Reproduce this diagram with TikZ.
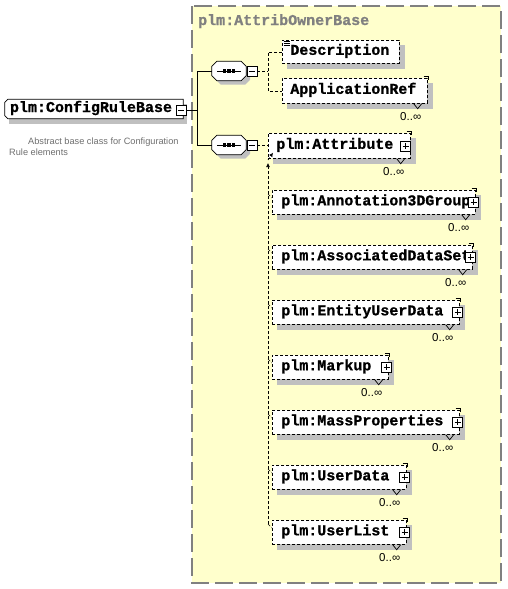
\documentclass[tikz,border=0pt]{standalone}
\usepackage{fontspec}
\setmainfont{Liberation Sans}
\newfontfamily\xmono[BoldFeatures={FakeBold=1}]{Liberation Mono}
\usetikzlibrary{arrows.meta,calc}
\pgfdeclarelayer{back}
\pgfdeclarelayer{shade}
\pgfsetlayers{back,shade,main}
\definecolor{bgyellow}{RGB}{255,255,204}
\definecolor{bordergray}{RGB}{128,128,128}
\definecolor{shadowgray}{RGB}{192,192,192}
\definecolor{docgray}{RGB}{110,110,110}
\newcommand\lbl[2]{\makebox[#1][l]{#2}}
% shadow rectangle behind a node
\newcommand\shadowof[1]{%
  \begin{pgfonlayer}{shade}
  \fill[shadowgray] ($(#1.north west)+(5,5)$) rectangle ($(#1.south east)+(5,5)$);
  \end{pgfonlayer}}
% octagon path around a node: node, chamfer, shift
\newcommand\octpath[4]{($(#1.north west)+(#2+#3,#4)$) -- ($(#1.north east)+(-#2+#3,#4)$) -- ($(#1.north east)+(#3,#2+#4)$) -- ($(#1.south east)+(#3,-#2+#4)$) -- ($(#1.south east)+(-#2+#3,#4)$) -- ($(#1.south west)+(#2+#3,#4)$) -- ($(#1.south west)+(#3,-#2+#4)$) -- ($(#1.north west)+(#3,#2+#4)$) -- cycle}
\newcommand\multimark[1]{%
  \draw[line width=0.7pt] ([xshift=-4pt,yshift=2pt]#1.north east) -- ([xshift=1pt,yshift=2pt]#1.north east) -- ([xshift=1pt,yshift=-2pt]#1.north east);
  \draw[line width=0.7pt] ([xshift=-14pt]#1.south east) -- ([xshift=-10pt,yshift=-5pt]#1.south east) -- ([xshift=-6pt]#1.south east);
  \node[mult] (#1-mult) at ([xshift=-17pt,yshift=-13pt]#1.south east) {0..∞};}
\begin{document}
\begin{tikzpicture}[x=1pt,y=-1pt,
  elem/.style={draw, line width=0.7pt, dash pattern=on 3pt off 2pt, fill=white,
    anchor=north west, inner xsep=9pt, inner ysep=0pt, minimum height=24pt,
    text height=9pt, text depth=3pt, font=\xmono\bfseries\fontsize{15}{15}\selectfont},
  pbox/.style={draw, solid, line width=0.7pt, fill=white, minimum size=10pt, inner sep=0pt,
    path picture={\draw[line width=0.7pt] ([xshift=2pt]path picture bounding box.west) -- ([xshift=-2pt]path picture bounding box.east)
      ([yshift=-2pt]path picture bounding box.north) -- ([yshift=2pt]path picture bounding box.south);}},
  mbox/.style={draw, solid, line width=0.7pt, fill=white, minimum size=10pt, inner sep=0pt,
    path picture={\draw[line width=0.7pt] ([xshift=2pt]path picture bounding box.west) -- ([xshift=-2pt]path picture bounding box.east);}},
  seqbox/.style={rectangle, minimum width=34pt, minimum height=19pt, inner sep=0pt},
  mult/.style={font=\fontsize{11.5}{11.5}\selectfont, inner sep=0pt},
  conn/.style={line width=0.8pt},
  dconn/.style={line width=0.7pt, dash pattern=on 3pt off 2pt},
  tip/.style={-{Latex[length=4pt,width=4pt]}}
]
\useasboundingbox (0,0) rectangle (507,589);
% group box
\begin{pgfonlayer}{back}
\draw[bordergray, fill=bgyellow, line width=1.2pt, dash pattern=on 18pt off 6pt] (192,6) rectangle (501,583);
\end{pgfonlayer}
\node[anchor=base west, inner sep=0pt, text=bordergray, font=\xmono\bfseries\fontsize{15}{15}\selectfont] (grptitle) at (198,25) {plm:AttribOwnerBase};

% root element
\node[rectangle, minimum width=178pt, minimum height=19pt, inner sep=0pt, text height=9pt, text depth=3pt,
  font=\xmono\bfseries\fontsize{15}{15}\selectfont] (crb) at (94,109) {\lbl{168pt}{plm:ConfigRuleBase}};
\begin{pgfonlayer}{shade}
\fill[shadowgray] ($(crb.north west)+(4,5)$) rectangle ($(crb.south east)+(4,5)$);
\fill[white] ($(crb.north west)+(3,0)$) -- (crb.north east) -- (crb.south east) -- ($(crb.south west)+(3,0)$) -- ($(crb.south west)+(0,-3)$) -- ($(crb.north west)+(0,3)$) -- cycle;
\end{pgfonlayer}
\draw[line width=0.8pt] ($(crb.north west)+(3,0)$) -- (crb.north east) -- (crb.south east) -- ($(crb.south west)+(3,0)$) -- ($(crb.south west)+(0,-3)$) -- ($(crb.north west)+(0,3)$) -- cycle;
\node[mbox] (crbm) at (181,110) {};
\node[anchor=base west, inner sep=0pt, text=docgray, font=\fontsize{9.2}{11}\selectfont] (doc1) at (28,144) {Abstract base class for Configuration};
\node[anchor=base west, inner sep=0pt, text=docgray, font=\fontsize{9.2}{11}\selectfont] (doc2) at (9,155) {Rule elements};

% sequences
\node[seqbox] (seq1) at (229,71) {};
\node[seqbox] (seq2) at (229,145) {};
\foreach \s in {seq1,seq2}{
  \begin{pgfonlayer}{shade}
  \fill[shadowgray] \octpath{\s}{5}{4}{4};
  \end{pgfonlayer}
  \draw[line width=0.8pt, fill=white] \octpath{\s}{5}{0}{0};
  \draw[line width=0.8pt] ([xshift=5pt]\s.west) -- ([xshift=-5pt]\s.east);
  \foreach \dx in {-4.5,0,4.5}
    \fill ($(\s.center)+(\dx,0)$) +(-1.7,-1.7) rectangle +(1.7,1.7);
}
\node[mbox] (s1m) at (252,71) {};
\node[mbox] (s2m) at (252,145) {};

\coordinate (j) at (197,0);
\draw[conn] (crbm.east) -- (crbm.east -| j) |- (seq1.west);
\draw[conn] (crbm.east -| j) |- (seq2.west);

% first sequence children
\node[elem, inner xsep=8pt, minimum height=23pt] (desc) at (282,40) {\lbl{101pt}{Description}};
\shadowof{desc}
\foreach \dy in {1.5,3.5,5.5}
  \draw[line width=0.7pt] ($(desc.north west)+(1.5,\dy)$) -- ++(6,0);
\node[elem, inner xsep=8pt, minimum height=25pt] (app) at (282,78) {\lbl{129pt}{ApplicationRef}};
\shadowof{app}
\multimark{app}
\coordinate (k1) at (268,0);
\draw[dconn] (s1m.east) -- (s1m.east -| k1);
\draw[dconn] (desc.west) -- (desc.west -| k1) -- (app.west -| k1) -- (app.west);

% second sequence: attribute + substitution group
\node[elem, inner xsep=8pt, minimum height=25pt] (attr) at (268,133) {\lbl{126pt}{plm:Attribute}};
\shadowof{attr}
\node[pbox] (attrp) at ($(attr.east)+(-5,0)$) {};
\multimark{attr}
\draw[dconn] (s2m.east) -- (s2m.east -| attr.west);

\node[elem] (ann) at (272,190) {\lbl{185pt}{plm:Annotation3DGroup}};
\node[elem] (ads) at (272,245) {\lbl{182pt}{plm:AssociatedDataSet}};
\node[elem] (eud) at (272,300) {\lbl{169pt}{plm:EntityUserData}};
\node[elem] (mku) at (272,355) {\lbl{98pt}{plm:Markup}};
\node[elem] (mps) at (272,410) {\lbl{169pt}{plm:MassProperties}};
\node[elem] (ud)  at (272,465) {\lbl{116pt}{plm:UserData}};
\node[elem] (ul)  at (272,520) {\lbl{116pt}{plm:UserList}};
\foreach \m in {ann,ads,eud,mku,mps,ud,ul}{
  \shadowof{\m}
  \node[pbox] (\m p) at ($(\m.east)+(-2,0)$) {};
  \multimark{\m}
}

\coordinate (sg) at (268,163);
\draw[dconn, tip] ($(ul.north west -| sg)+(0,4)$) -- (sg);
\foreach \m in {ann,ads,eud,mku,mps,ud,ul}
  \draw[dconn] ($(\m.north west -| sg)+(0,4)$) -- ($(\m.north west)+(0,8)$);
\coordinate (sgd) at (268,160);
\draw[dconn, tip] (sgd) -- ($(attr.south west)+(5,-6)$);
\end{tikzpicture}
\end{document}
